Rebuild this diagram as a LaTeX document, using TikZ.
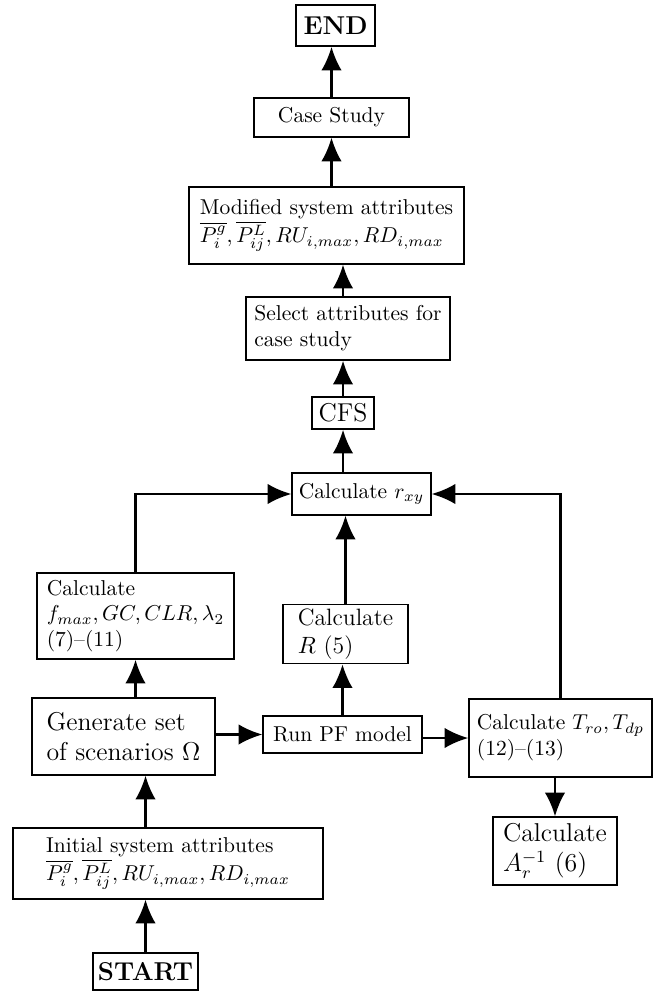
\documentclass[tikz,border=0pt]{standalone}
\usetikzlibrary{arrows.meta}
\usetikzlibrary{calc}

\begin{document}
\begin{tikzpicture}[x=0.465pt,y=-0.465pt,
    box/.style={draw, line width=0.7pt, rectangle, align=left, inner sep=2pt},
    flow/.style={line width=1pt, -{Latex[length=11pt,width=9.5pt]}}]
      \useasboundingbox (0,0) rectangle (660,992);

      % Top column
      \node[box, font=\large\bfseries, minimum width=36.7pt, minimum height=19.1pt] (end) at (335.5,25.5) {END};
      \node[box, minimum width=72.1pt, minimum height=18.1pt] (case) at (331.5,117.5) {Case Study};
      \node[box, minimum width=127.9pt, minimum height=35.8pt] (mod) at (326.5,225.5)
        {Modified system attributes\\ $\overline{P_i^g},\overline{P_{ij}^L},RU_{i,max},RD_{i,max}$};
      \node[box, minimum width=94.9pt, minimum height=29.3pt] (sel) at (348,328.5)
        {Select attributes for\\ case study};
      \node[box, font=\large, minimum width=28.8pt, minimum height=14.9pt, inner sep=1pt] (cfs) at (343,413) {CFS};
      \node[box, minimum width=64.6pt, minimum height=19.5pt] (rxy) at (361.5,494) {Calculate $r_{xy}$};

      % Middle row
      \node[box, minimum width=91.6pt, minimum height=40pt] (fmax) at (135.5,616)
        {Calculate\\ $f_{max},GC,CLR,\lambda_2$\\ (7)--(11)};
      \node[box, font=\fontsize{11}{13}\selectfont, minimum width=58.1pt, minimum height=26pt] (rf) at (345.5,634)
        {Calculate\\ $R$ (5)};
      \node[box, font=\large, minimum width=85.1pt, minimum height=35.8pt] (gen) at (123.5,736.5)
        {Generate set\\ of scenarios $\Omega$};
      \node[box, minimum width=73.9pt, minimum height=17.2pt] (run) at (342.5,734.5) {Run PF model};
      \node[box, minimum width=85.1pt, minimum height=36.3pt, inner sep=1pt] (tbox) at (560.5,738)
        {Calculate $T_{ro},T_{dp}$\\ (12)--(13)};

      % Bottom
      \node[box, font=\large, minimum width=57.7pt, minimum height=31.6pt] (ar) at (555,851)
        {Calculate\\ $A_r^{-1}$ (6)};
      \node[box, minimum width=144.2pt, minimum height=33pt] (init) at (168,863.5)
        {Initial system attributes\\ $\overline{P_i^g},\overline{P_{ij}^L},RU_{i,max},RD_{i,max}$};
      \node[box, font=\large\bfseries, minimum width=48.8pt, minimum height=17.2pt] (start) at (145.5,971.5) {START};

      % Arrows
      \draw[flow] (start.north) -- (start.north |- init.south);
      \draw[flow] (init.north -| start) -- (start |- gen.south);
      \draw[flow] (gen.north -| fmax) -- (fmax.south);
      \draw[flow] (fmax.north) |- (rxy.west);
      \draw[flow] (gen.east |- run) -- (run.west);
      \draw[flow] (run.east |- tbox) -- (tbox.west);
      \draw[flow] (run.north) -- (run.north |- rf.south);
      \draw[flow] (rf.north) -- (rf.north |- rxy.south);
      \draw[flow] (tbox.north) |- (rxy.east);
      \draw[flow] (tbox.south -| ar) -- (ar.north);
      \draw[flow] (rxy.north -| cfs) -- (cfs.south);
      \draw[flow] (cfs.north) -- (cfs.north |- sel.south);
      \draw[flow] (sel.north -| cfs) -- (cfs |- mod.south);
      \draw[flow] (mod.north -| case) -- (case.south);
      \draw[flow] (case.north) -- (case.north |- end.south);
\end{tikzpicture}
\end{document}
